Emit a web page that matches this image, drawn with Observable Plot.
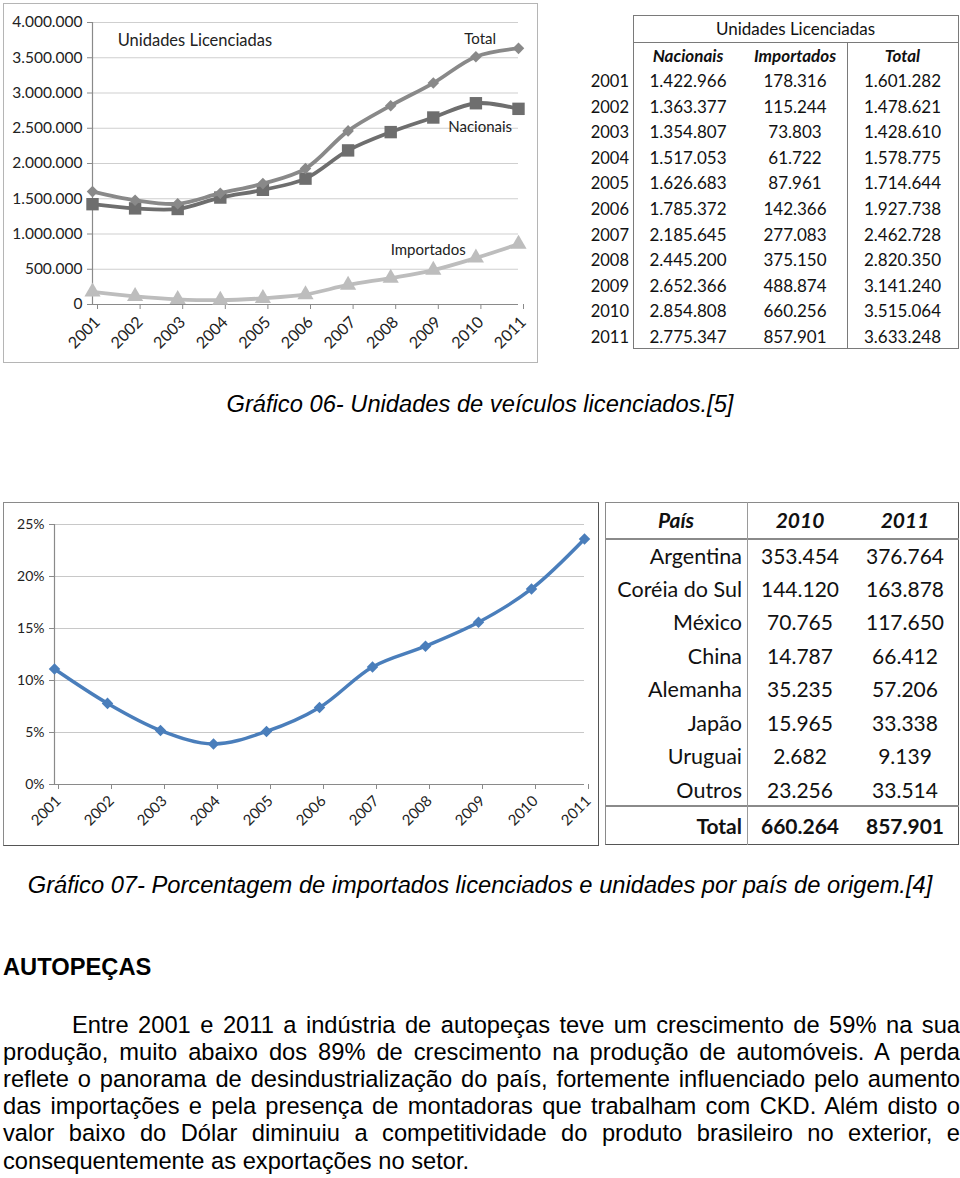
<!DOCTYPE html>
<html><head><meta charset="utf-8">
<script src="https://cdn.jsdelivr.net/npm/d3@7"></script>
<script src="https://cdn.jsdelivr.net/npm/@observablehq/plot@0.6"></script>
<style>
body{margin:0;background:#fff;}
#page{position:relative;width:960px;height:1178px;overflow:hidden;font-family:"Liberation Sans",Arial,sans-serif;color:#000;}
.t{position:absolute;white-space:nowrap;font-family:Lato,sans-serif;color:#111;}
.ln{position:absolute;}
.cap{position:absolute;left:0;width:960px;text-align:center;font-style:italic;font-size:23.7px;line-height:27px;white-space:nowrap;}
.body{position:absolute;left:3px;width:957px;font-size:23.7px;line-height:27px;text-align:justify;text-align-last:justify;white-space:nowrap;}
</style></head>
<body><div id="page"></div>
<script>
// ---------- DATA ----------
const years = [2001, 2002, 2003, 2004, 2005, 2006, 2007, 2008, 2009, 2010, 2011];
const nacionais = [1422966, 1363377, 1354807, 1517053, 1626683, 1785372, 2185645, 2445200, 2652366, 2854808, 2775347];
const importados = [178316, 115244, 73803, 61722, 87961, 142366, 277083, 375150, 488874, 660256, 857901];
const total = [1601282, 1478621, 1428610, 1578775, 1714644, 1927738, 2462728, 2820350, 3141240, 3515064, 3633248];
const yTicks1 = [0, 500000, 1000000, 1500000, 2000000, 2500000, 3000000, 3500000, 4000000];
const pctImportados = [11.1, 7.8, 5.2, 3.9, 5.1, 7.4, 11.3, 13.3, 15.6, 18.8, 23.6];
const yTicks2 = [0, 5, 10, 15, 20, 25];
const paises = ["Argentina", "Coréia do Sul", "México", "China", "Alemanha", "Japão", "Uruguai", "Outros"];
const paises2010 = [353454, 144120, 70765, 14787, 35235, 15965, 2682, 23256];
const paises2011 = [376764, 163878, 117650, 66412, 57206, 33338, 9139, 33514];
const totaisPaises = [660264, 857901];
const caption1 = "Gráfico 06- Unidades de veículos licenciados.[5]";
const caption2 = "Gráfico 07- Porcentagem de importados licenciados e unidades por país de origem.[4]";
const heading = "AUTOPEÇAS";
const bodyLines = [
  "Entre 2001 e 2011 a indústria de autopeças teve um crescimento de 59% na sua",
  "produção, muito abaixo dos 89% de crescimento na produção de automóveis. A perda",
  "reflete o panorama de desindustrialização do país, fortemente influenciado pelo aumento",
  "das importações e pela presença de montadoras que trabalham com CKD. Além disto o",
  "valor baixo do Dólar diminuiu a competitividade do produto brasileiro no exterior, e",
  "consequentemente as exportações no setor."
];

// ---------- HELPERS ----------
const pt = d3.formatLocale({decimal: ",", thousands: ".", grouping: [3], currency: ["R$", ""]});
const fmt = pt.format(",d");
const page = document.getElementById("page");
function txt(s, x, cy, o) {
  const d = document.createElement("div");
  d.className = "t";
  d.textContent = s;
  const lh = 40;
  d.style.lineHeight = lh + "px";
  d.style.top = (cy - lh / 2) + "px";
  d.style.fontSize = o.size + "px";
  if (o.weight) d.style.fontWeight = o.weight;
  if (o.italic) d.style.fontStyle = "italic";
  if (o.align === "center") { d.style.left = (x - 200) + "px"; d.style.width = "400px"; d.style.textAlign = "center"; }
  else if (o.align === "right") { d.style.left = (x - 400) + "px"; d.style.width = "400px"; d.style.textAlign = "right"; }
  else { d.style.left = x + "px"; }
  page.appendChild(d);
}
function box(x, y, w, h, css) {
  const d = document.createElement("div");
  d.className = "ln";
  Object.assign(d.style, {left: x + "px", top: y + "px", width: w + "px", height: h + "px", boxSizing: "border-box"}, css);
  page.appendChild(d);
  return d;
}
function place(el, x, y) {
  el.style.position = "absolute";
  el.style.left = x + "px";
  el.style.top = y + "px";
  page.appendChild(el);
}

// ---------- CHART 1 ----------
const rows1 = years.map((y, i) => ({year: y, nacionais: nacionais[i], importados: importados[i], total: total[i]}));
const cImp = "#bdbdbd", cNac = "#6e6e6e", cTot = "#898989";
const chart1 = Plot.plot({
  width: 535, height: 360,
  marginLeft: 89, marginRight: 20, marginTop: 19, marginBottom: 59,
  x: {domain: [2001, 2011]},
  y: {domain: [0, 4000000]},
  style: {fontFamily: "Lato, sans-serif", fontSize: "15.5px", color: "#222", background: "transparent", overflow: "visible"},
  marks: [
    Plot.gridY(yTicks1.filter(d => d > 0), {stroke: "#cfcfcf", strokeOpacity: 1, strokeWidth: 1.2}),
    Plot.ruleX([2001], {stroke: "#8a8a8a", strokeWidth: 1.2}),
    Plot.ruleY([0], {stroke: "#8a8a8a", strokeWidth: 1.2}),
    Plot.axisY({ticks: yTicks1, tickFormat: fmt, tickSize: 5, tickPadding: 5, stroke: "#8a8a8a", fill: "#222", label: null}),
    Plot.axisX({ticks: years, tickFormat: d => String(d), tickRotate: -45, tickSize: 5, tickPadding: 10, dx: 5, fontSize: 16, stroke: "#8a8a8a", fill: "#222", label: null}),
    Plot.line(rows1, {x: "year", y: "importados", stroke: cImp, strokeWidth: 3.8, curve: "catmull-rom"}),
    Plot.dot(rows1, {x: "year", y: "importados", symbol: "triangle", r: 6, fill: cImp}),
    Plot.line(rows1, {x: "year", y: "nacionais", stroke: cNac, strokeWidth: 3.8, curve: "catmull-rom"}),
    Plot.dot(rows1, {x: "year", y: "nacionais", symbol: "square", r: 7, fill: cNac}),
    Plot.line(rows1, {x: "year", y: "total", stroke: cTot, strokeWidth: 3.8, curve: "catmull-rom"}),
    Plot.dot(rows1, {x: "year", y: "total", symbol: "diamond2", r: 5.2, fill: cTot}),
    Plot.text(["Unidades Licenciadas"], {x: 2001.59, y: 3744000, text: d => d, textAnchor: "start", fontSize: 16.5, fill: "#222"}),
    Plot.text(["Total"], {x: 2010.1, y: 3758000, text: d => d, fontSize: 15, fill: "#222"}),
    Plot.text(["Nacionais"], {x: 2010.1, y: 2520000, text: d => d, fontSize: 15, fill: "#222"}),
    Plot.text(["Importados"], {x: 2008.88, y: 769000, text: d => d, fontSize: 15, fill: "#222"})
  ]
});
box(3, 3, 535, 360, {border: "1px solid #b5b5b5"});
place(chart1, 3, 3);

// ---------- TABLE 1 ----------
box(633, 15, 326, 334, {border: "1px solid #7a7a7a"});
box(633, 42, 326, 1, {background: "#7a7a7a"});
box(847, 42, 1, 307, {background: "#7a7a7a"});
txt("Unidades Licenciadas", 795.5, 29, {size: 17, align: "center"});
const colX1 = [688, 795, 902.5];
["Nacionais", "Importados", "Total"].forEach((h, j) => txt(h, colX1[j], 55.5, {size: 17, align: "center", weight: 700, italic: true}));
years.forEach((y, i) => {
  const cy = 81 + i * 25.6;
  txt(String(y), 629, cy, {size: 16.5, align: "right"});
  txt(fmt(nacionais[i]), colX1[0], cy, {size: 17, align: "center"});
  txt(fmt(importados[i]), colX1[1], cy, {size: 17, align: "center"});
  txt(fmt(total[i]), colX1[2], cy, {size: 17, align: "center"});
});

// ---------- CAPTION 1 ----------
const c1 = document.createElement("div"); c1.className = "cap"; c1.textContent = caption1; c1.style.top = "391px"; page.appendChild(c1);

// ---------- CHART 2 ----------
const rows2 = years.map((y, i) => ({year: y, pct: pctImportados[i]}));
const blue = "#4a7ebb";
const chart2 = Plot.plot({
  width: 595, height: 343,
  marginLeft: 51, marginRight: 14, marginTop: 22, marginBottom: 61,
  x: {domain: [2001, 2011]},
  y: {domain: [0, 25]},
  style: {fontFamily: "Lato, sans-serif", fontSize: "14px", color: "#222", background: "transparent", overflow: "visible"},
  marks: [
    Plot.gridY(yTicks2.filter(d => d > 0), {stroke: "#c8c8c8", strokeOpacity: 1, strokeWidth: 1.2}),
    Plot.ruleX([2001], {stroke: "#8a8a8a", strokeWidth: 1.2}),
    Plot.ruleY([0], {stroke: "#8a8a8a", strokeWidth: 1.2}),
    Plot.axisY({ticks: yTicks2, tickFormat: d => d + "%", tickSize: 5, tickPadding: 5, stroke: "#8a8a8a", fill: "#222", label: null}),
    Plot.axisX({ticks: years, tickFormat: d => String(d), tickRotate: -45, tickSize: 5, tickPadding: 9, dx: 4, fontSize: 15, stroke: "#8a8a8a", fill: "#222", label: null}),
    Plot.line(rows2, {x: "year", y: "pct", stroke: blue, strokeWidth: 3.5, curve: "catmull-rom"}),
    Plot.dot(rows2, {x: "year", y: "pct", symbol: "diamond2", r: 5.2, fill: blue})
  ]
});
box(3, 502, 596, 344, {border: "1px solid #8a8a8a", borderRightColor: "#555", borderBottomColor: "#555"});
place(chart2, 3, 502);

// ---------- TABLE 2 ----------
box(605, 502, 354, 343, {border: "1px solid #8a8a8a", borderRightColor: "#555", borderBottomColor: "#555"});
box(605, 538, 354, 1.5, {background: "#8a8a8a"});
box(605, 805, 354, 1.5, {background: "#8a8a8a"});
box(746.5, 502, 1.5, 343, {background: "#9a9a9a"});
const colX2 = [800, 905];
txt("País", 676, 520, {size: 21, align: "center", weight: 700, italic: true});
txt("2010", colX2[0], 520, {size: 21, align: "center", weight: 700, italic: true});
txt("2011", colX2[1], 520, {size: 21, align: "center", weight: 700, italic: true});
paises.forEach((p, i) => {
  const cy = 555.5 + i * 33.45;
  txt(p, 742, cy, {size: 21.5, align: "right"});
  txt(fmt(paises2010[i]), colX2[0], cy, {size: 21, align: "center"});
  txt(fmt(paises2011[i]), colX2[1], cy, {size: 21, align: "center"});
});
txt("Total", 742, 826, {size: 21, align: "right", weight: 700});
txt(fmt(totaisPaises[0]), colX2[0], 826, {size: 21, align: "center", weight: 700});
txt(fmt(totaisPaises[1]), colX2[1], 826, {size: 21, align: "center", weight: 700});

// ---------- CAPTION 2 + TEXT ----------
const c2 = document.createElement("div"); c2.className = "cap"; c2.textContent = caption2; c2.style.top = "872px"; page.appendChild(c2);
const h = document.createElement("div");
Object.assign(h.style, {position: "absolute", left: "3px", top: "954px", fontSize: "23.7px", lineHeight: "27px", fontWeight: "700"});
h.textContent = heading; page.appendChild(h);
bodyLines.forEach((l, i) => {
  const d = document.createElement("div");
  d.className = "body";
  d.textContent = l;
  d.style.top = (1011.5 + i * 27.2) + "px";
  if (i === 0) d.style.textIndent = "69px";
  if (i === bodyLines.length - 1) d.style.textAlignLast = "left";
  page.appendChild(d);
});
</script></body></html>
